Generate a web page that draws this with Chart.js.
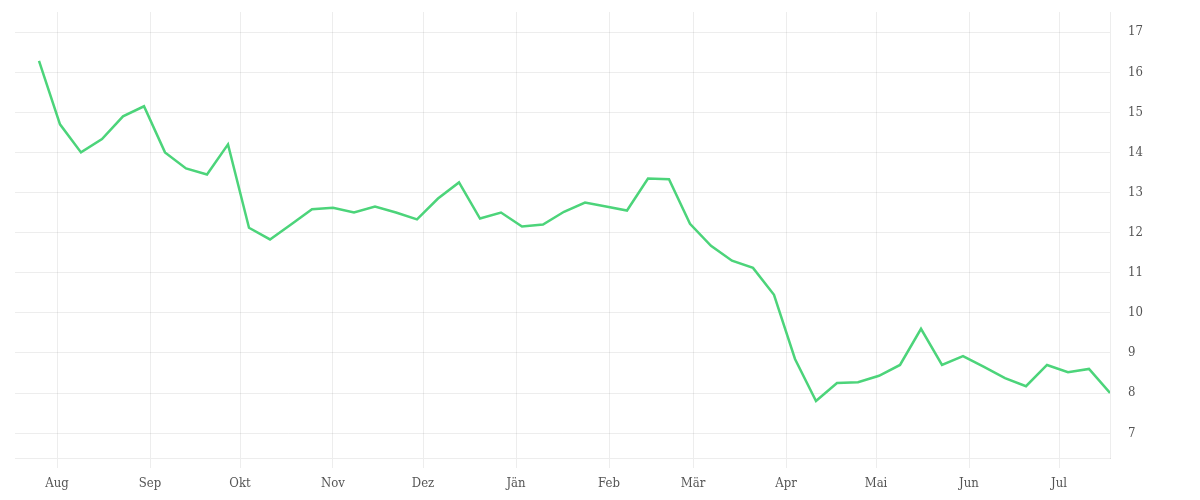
<!DOCTYPE html>
<html>
<head>
<meta charset="utf-8">
<script src="https://cdn.jsdelivr.net/npm/chart.js@4/dist/chart.umd.min.js"></script>
<style>
html,body{margin:0;padding:0;background:#fff;}
#wrap{width:1200px;height:500px;position:relative;}
</style>
</head>
<body>
<div id="wrap"><canvas id="c"></canvas></div>
<script>
// Weekly observations, first date and values
const startDate = '2022-07-26';
const values = [
  16.28, 14.7, 14.0, 14.33, 14.9, 15.15, 14.0, 13.6, 13.45, 14.2,
  12.12, 11.83, 12.2, 12.58, 12.62, 12.5, 12.65, 12.5, 12.33, 12.85,
  13.25, 12.35, 12.5, 12.15, 12.2, 12.52, 12.75, 12.65, 12.55, 13.35,
  13.33, 12.22, 11.67, 11.3, 11.12, 10.45, 8.85, 7.8, 8.25, 8.27,
  8.43, 8.7, 9.6, 8.7, 8.92, 8.65, 8.37, 8.17, 8.7, 8.52,
  8.6, 8.0
];
const monthLabels = ['Jän','Feb','Mär','Apr','Mai','Jun','Jul','Aug','Sep','Okt','Nov','Dez'];
const yTicks = [7, 8, 9, 10, 11, 12, 13, 14, 15, 16, 17];
const axisStart = '2022-07-18';
const axisEnd = '2023-07-18';
const yMin = 6.38;
const yMax = 17.5;

const DAY = 86400000;
const t0 = Date.parse(startDate + 'T00:00:00Z');
const points = values.map((v, i) => ({ x: t0 + i * 7 * DAY, y: v }));
const xMin = Date.parse(axisStart + 'T00:00:00Z');
const xMax = Date.parse(axisEnd + 'T00:00:00Z');

// month starts within range
const monthTicks = [];
{
  const d = new Date(xMin);
  let y = d.getUTCFullYear(), m = d.getUTCMonth() + 1;
  while (true) {
    if (m > 11) { m = 0; y++; }
    const t = Date.UTC(y, m, 1);
    if (t > xMax) break;
    monthTicks.push(t);
    m++;
  }
}

const font = { family: "'DejaVu Serif Condensed', 'DejaVu Serif', serif", size: 13 };
const gridColor = 'rgba(0,0,0,0.07)';

new Chart(document.getElementById('c'), {
  type: 'line',
  data: {
    datasets: [{
      data: points,
      borderColor: '#4cd47a',
      borderWidth: 2.5,
      pointRadius: 0,
      tension: 0,
      fill: false
    }]
  },
  options: {
    responsive: true,
    maintainAspectRatio: false,
    animation: false,
    layout: { padding: { left: 15, top: 12, right: 0, bottom: 0 } },
    plugins: { legend: { display: false }, tooltip: { enabled: false } },
    scales: {
      x: {
        type: 'linear',
        min: xMin,
        max: xMax,
        afterBuildTicks: (s) => { s.ticks = monthTicks.map(v => ({ value: v })); },
        afterFit: (s) => { s.height = 42; },
        ticks: {
          autoSkip: false,
          maxRotation: 0,
          color: '#555',
          font: font,
          padding: 8,
          callback: (v) => monthLabels[new Date(v).getUTCMonth()]
        },
        grid: { color: gridColor, tickLength: 10, drawTicks: true },
        border: { display: true, color: gridColor }
      },
      y: {
        position: 'right',
        min: yMin,
        max: yMax,
        afterBuildTicks: (s) => { s.ticks = yTicks.map(v => ({ value: v })); },
        afterFit: (s) => { s.width = 90; },
        ticks: {
          color: '#555',
          font: font,
          padding: 0,
          callback: (v) => String(v)
        },
        grid: { color: gridColor, drawTicks: true, tickLength: 18, tickColor: 'rgba(0,0,0,0)' },
        border: { display: true, color: gridColor }
      }
    }
  }
});
</script>
</body>
</html>
